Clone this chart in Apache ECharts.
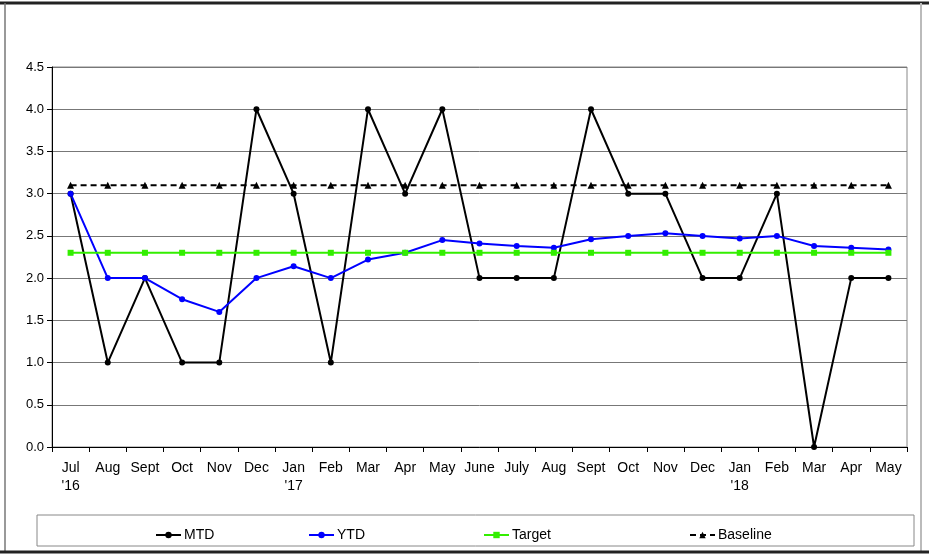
<!DOCTYPE html>
<html>
<head>
<meta charset="utf-8">
<script src="https://cdn.jsdelivr.net/npm/echarts@6/dist/echarts.min.js"></script>
<style>
  html, body { margin: 0; padding: 0; background: #fff; }
  #main { width: 929px; height: 556px; }
</style>
</head>
<body>
<div id="main"></div>
<script>
var months = ['Jul\n\'16', 'Aug', 'Sept', 'Oct', 'Nov', 'Dec', 'Jan\n\'17', 'Feb', 'Mar', 'Apr', 'May', 'June',
              'July', 'Aug', 'Sept', 'Oct', 'Nov', 'Dec', 'Jan\n\'18', 'Feb', 'Mar', 'Apr', 'May'];
var mtd = [3, 1, 2, 1, 1, 4, 3, 1, 4, 3, 4, 2, 2, 2, 4, 3, 3, 2, 2, 3, 0, 2, 2];
var ytd = [3, 2, 2, 1.75, 1.6, 2, 2.14, 2, 2.22, 2.3, 2.45, 2.41, 2.38, 2.36, 2.46, 2.5, 2.53, 2.5, 2.47, 2.5, 2.38, 2.36, 2.34];
var target = [2.3, 2.3, 2.3, 2.3, 2.3, 2.3, 2.3, 2.3, 2.3, 2.3, 2.3, 2.3, 2.3, 2.3, 2.3, 2.3, 2.3, 2.3, 2.3, 2.3, 2.3, 2.3, 2.3];
var baseline = [3.1, 3.1, 3.1, 3.1, 3.1, 3.1, 3.1, 3.1, 3.1, 3.1, 3.1, 3.1, 3.1, 3.1, 3.1, 3.1, 3.1, 3.1, 3.1, 3.1, 3.1, 3.1, 3.1];

var myChart = echarts.init(document.getElementById('main'));
var font = 'Liberation Sans, Arial, sans-serif';

// one legend per item so they can sit at their own spots in the box
function legendAt(name, left) {
    return {
        data: [name], left: left, top: 523,
        itemWidth: 25, itemHeight: 8, itemGap: 0,
        textStyle: { fontFamily: font, fontSize: 14, color: '#000', padding: [0, 0, 0, -2] }
    };
}

var option = {
    animation: false,
    textStyle: { fontFamily: font },
    grid: { left: 52, right: 22, top: 67, bottom: 109, show: true, borderColor: '#888', borderWidth: 1 },
    legend: [legendAt('MTD', 150), legendAt('YTD', 303), legendAt('Target', 478), legendAt('Baseline', 684)],
    graphic: [
        { type: 'line', shape: { x1: 0, y1: 3, x2: 929, y2: 3 }, style: { stroke: '#222', lineWidth: 3 } },
        { type: 'line', shape: { x1: 5, y1: 3, x2: 5, y2: 552 }, style: { stroke: '#777', lineWidth: 1.5 } },
        { type: 'line', shape: { x1: 921, y1: 3, x2: 921, y2: 552 }, style: { stroke: '#bbb', lineWidth: 2 } },
        { type: 'line', shape: { x1: 0, y1: 552, x2: 929, y2: 552 }, style: { stroke: '#222', lineWidth: 3 } },
        { type: 'rect', shape: { x: 37, y: 515, width: 877, height: 31 }, style: { fill: 'none', stroke: '#888', lineWidth: 1 } }
    ],
    xAxis: {
        type: 'category',
        data: months,
        boundaryGap: true,
        axisLine: { lineStyle: { color: '#000', width: 1 } },
        axisTick: { show: true, length: 5, lineStyle: { color: '#000' } },
        axisLabel: { color: '#000', fontSize: 14, interval: 0, margin: 12, lineHeight: 18, fontFamily: font }
    },
    yAxis: {
        type: 'value',
        min: 0, max: 4.5, interval: 0.5,
        axisLine: { show: true, lineStyle: { color: '#000', width: 1 } },
        axisTick: { show: true, length: 5, lineStyle: { color: '#000' } },
        axisLabel: { color: '#000', fontSize: 13, margin: 8, fontFamily: font,
                     formatter: function (v) { return v.toFixed(1); } },
        splitLine: { lineStyle: { color: '#777', width: 1 } }
    },
    series: [{
        name: 'MTD', type: 'line', data: mtd,
        symbol: 'circle', symbolSize: 6,
        lineStyle: { color: '#000', width: 2 }, itemStyle: { color: '#000' }
    }, {
        name: 'YTD', type: 'line', data: ytd,
        symbol: 'circle', symbolSize: 6,
        lineStyle: { color: '#0000ff', width: 2 }, itemStyle: { color: '#0000ff' }
    }, {
        name: 'Target', type: 'line', data: target,
        symbol: 'rect', symbolSize: 6,
        lineStyle: { color: '#33ee00', width: 2 }, itemStyle: { color: '#33ee00' }
    }, {
        name: 'Baseline', type: 'line', data: baseline,
        symbol: 'triangle', symbolSize: 7,
        lineStyle: { color: '#000', width: 2, type: [6, 4] }, itemStyle: { color: '#000' }
    }]
};

myChart.setOption(option);
</script>
</body>
</html>
